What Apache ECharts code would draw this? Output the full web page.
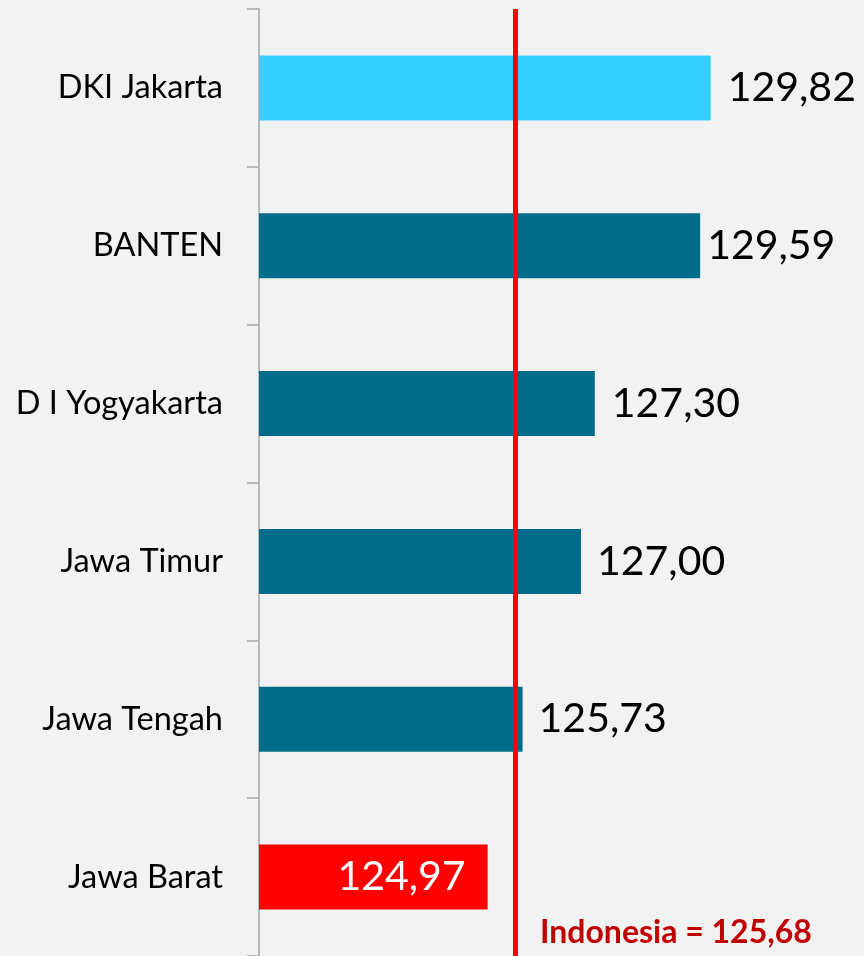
<!DOCTYPE html>
<html>
<head>
<meta charset="utf-8">
<script src="https://cdn.jsdelivr.net/npm/echarts@6/dist/echarts.min.js"></script>
<style>
  html, body { margin: 0; padding: 0; background: #f2f2f2; }
  #chart { width: 864px; height: 956px; }
</style>
</head>
<body>
<div id="chart"></div>
<script>
// data
const provinces = ['DKI Jakarta', 'BANTEN', 'D I Yogyakarta', 'Jawa Timur', 'Jawa Tengah', 'Jawa Barat'];
const indexValues = [129.82, 129.59, 127.30, 127.00, 125.73, 124.97];
const barColors = ['#33cfff', '#006b8b', '#006b8b', '#006b8b', '#006b8b', '#ff0000'];
const indonesiaValue = 125.68;
// where the reference line is actually drawn in the picture
const indonesiaLinePos = 125.57;

const fmt = v => v.toFixed(2).replace('.', ',');

// label distance per bar (the original labels were placed by hand)
const labelGap = [17, 7, 17, 16, 16, 22];

const chart = echarts.init(document.getElementById('chart'));

const option = {
  backgroundColor: '#f2f2f2',
  animation: false,
  grid: { left: 259, top: 9, bottom: -2, right: 145 },
  xAxis: {
    type: 'value',
    min: 120,
    max: 130,
    show: false
  },
  yAxis: {
    type: 'category',
    inverse: true,
    data: provinces,
    axisLine: { show: true, lineStyle: { color: '#a6a6a6', width: 1.5 } },
    axisTick: { show: true, length: 12, lineStyle: { color: '#a6a6a6', width: 1.5 } },
    axisLabel: {
      margin: 36,
      color: '#000',
      fontFamily: 'Lato',
      fontSize: 32.5
    },
    splitLine: { show: false }
  },
  series: [{
    type: 'bar',
    barWidth: 65,
    data: indexValues.map((v, i) => ({
      value: v,
      itemStyle: { color: barColors[i] },
      label: i === indexValues.length - 1
        ? { position: 'insideRight', distance: labelGap[i], color: '#fff' }
        : { position: 'right', distance: labelGap[i], color: '#000' }
    })),
    label: {
      show: true,
      fontFamily: 'Lato',
      fontSize: 41,
      formatter: p => fmt(p.value)
    },
    markLine: {
      silent: true,
      symbol: 'none',
      label: { show: false },
      lineStyle: { color: '#ff0000', width: 5, type: 'solid' },
      data: [{ xAxis: indonesiaLinePos }]
    },
    z: 2
  }],
  graphic: [{
    type: 'text',
    left: 540,
    top: 917,
    style: {
      text: 'Indonesia = ' + fmt(indonesiaValue),
      fill: '#c00000',
      font: 'bold 32px Lato'
    }
  }]
};

chart.setOption(option);
</script>
</body>
</html>
